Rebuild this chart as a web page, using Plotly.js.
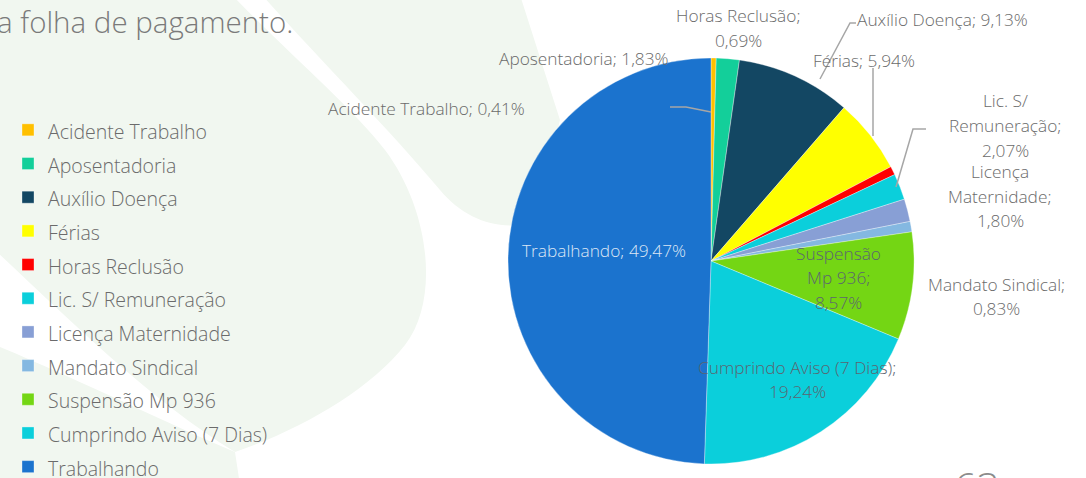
<!DOCTYPE html>
<html><head><meta charset="utf-8">
<script src="https://cdn.plot.ly/plotly-3.0.1.min.js"></script>
<style>html,body{margin:0;padding:0;background:#fff;overflow:hidden}#chart{width:1086px;height:478px}</style>
</head><body><div id="chart"></div>
<script>
// ---- data ----
const categories = ['Acidente Trabalho','Aposentadoria','Auxílio Doença','Férias','Horas Reclusão','Lic. S/ Remuneração','Licença Maternidade','Mandato Sindical','Suspensão Mp 936','Cumprindo Aviso (7 Dias)','Trabalhando'];
const percentages = [0.41,1.83,9.13,5.94,0.69,2.07,1.80,0.83,8.57,19.24,49.47];
const sliceColors = ['#FFC000','#13CF9A','#134763','#FFFF00','#FF0000','#0BCFDB','#889FD5','#84B8E1','#74D614','#0BCFDB','#1B73CE'];
const titleText = 'a folha de pagamento.';
const pageNumber = '63';

// ---- layout helpers ----
const W = 1086, H = 478;
const px = x => x / W, py = y => 1 - y / H;
const FONT = 'Open Sans';
function convPath(s){
  const t = s.trim().split(/\s+/); let out=[]; let i=0;
  while(i<t.length){ if(/^[A-Za-z]$/.test(t[i])){out.push(t[i]);i++;} else {out.push(px(+t[i]).toFixed(5)+','+py(+t[i+1]).toFixed(5)); i+=2;} }
  return out.join(' ');
}

// label placement (pixel centre of first line, words per line, colour)
const placement = [
  {x:426, y:108, g:null, c:'#6b6b6b'},
  {x:584, y:58,  g:null, c:'#6b6b6b'},
  {x:942, y:19,  g:null, c:'#6b6b6b'},
  {x:864, y:61,  g:null, c:'#6b6b6b'},
  {x:738, y:16,  g:[2,1], c:'#6b6b6b'},
  {x:1005,y:101, g:[2,1,1], c:'#6b6b6b'},
  {x:1000,y:172, g:[1,1,1], c:'#6b6b6b'},
  {x:996, y:284, g:[2,1], c:'#6b6b6b'},
  {x:838, y:253, g:[1,2,1], c:'#5b6570'},
  {x:797, y:367, g:[4,1], c:'#5b6570'},
  {x:604, y:250, g:null, c:'#dbe6f5'}
];
const lineGap = 24.5;
const annotations = [];
categories.forEach((cat,i)=>{
  const txt = cat + '; ' + percentages[i].toFixed(2).replace('.',',') + '%';
  const words = txt.split(' ');
  const p = placement[i];
  let lines = [];
  if(!p.g){ lines=[txt]; } else { let k=0; p.g.forEach(n=>{ lines.push(words.slice(k,k+n).join(' ')); k+=n; }); }
  lines.forEach((ln,j)=>{
    annotations.push({xref:'paper',yref:'paper',x:px(p.x),y:py(p.y+j*lineGap),text:ln,showarrow:false,
      xanchor:'center',yanchor:'middle',font:{family:FONT,size:17.3,color:p.c,weight:300}});
  });
});
annotations.push({xref:'paper',yref:'paper',x:px(-5),y:py(22),text:titleText,showarrow:false,xanchor:'left',yanchor:'middle',
  font:{family:FONT,size:29.5,color:'#7a7a7a',weight:300}});
annotations.push({xref:'paper',yref:'paper',x:px(977),y:py(486),text:pageNumber,showarrow:false,xanchor:'center',yanchor:'middle',
  font:{family:FONT,size:40,color:'#8c8c8c',weight:300}});

const green = '#f1f7f0';
const shapes = [
  {type:'path',xref:'paper',yref:'paper',layer:'below',fillcolor:green,line:{width:0},
   path:convPath('M -5 -5 L 232 -5 C 290 55 350 105 385 150 C 430 210 440 300 405 345 C 370 390 300 430 235 452 C 150 400 70 320 -5 250 Z')},
  {type:'path',xref:'paper',yref:'paper',layer:'below',fillcolor:green,line:{width:0},
   path:convPath('M -5 345 C 80 380 170 425 235 452 L 240 485 L -5 485 Z')},
  {type:'path',xref:'paper',yref:'paper',layer:'below',fillcolor:green,line:{width:0},
   path:convPath('M 262 -5 C 320 60 390 130 440 190 C 465 220 500 232 535 222 L 560 120 L 520 -5 Z')},
  // leader lines
  {type:'path',xref:'paper',yref:'paper',line:{color:'#a6a6a6',width:1.5},path:convPath('M 670 107 L 686 107 L 711 112')},
  {type:'path',xref:'paper',yref:'paper',line:{color:'#a6a6a6',width:1.5},path:convPath('M 820 79 L 850 23 L 856 23')},
  {type:'path',xref:'paper',yref:'paper',line:{color:'#a6a6a6',width:1.5},path:convPath('M 873 68 L 873 136')},
  {type:'path',xref:'paper',yref:'paper',line:{color:'#a6a6a6',width:1.5},path:convPath('M 896 187 L 913 129 L 926 129')}
];

const legendLabels = categories.map(c => '<span style="font-size:19.5px">' + c + '</span>');

const trace = {
  type:'pie', labels: legendLabels, values: percentages, sort:false, direction:'clockwise', rotation:0,
  marker:{colors:sliceColors, line:{color:'rgba(255,255,255,0.55)', width:0.6}},
  textinfo:'none', hoverinfo:'label+percent',
  domain:{x:[px(508),px(914)], y:[py(464),py(58)]}
};

const layout = {
  width:W, height:H, margin:{l:0,r:0,t:0,b:0,autoexpand:false}, paper_bgcolor:'#ffffff',
  showlegend:true,
  legend:{x:px(8), y:py(108), xanchor:'left', yanchor:'top', bgcolor:'rgba(0,0,0,0)', traceorder:'normal',
    font:{family:FONT, size:23.6, color:'#6b6b6b', weight:300}},
  annotations, shapes
};
Plotly.newPlot('chart',[trace],layout,{displayModeBar:false,staticPlot:true});
</script></body></html>
